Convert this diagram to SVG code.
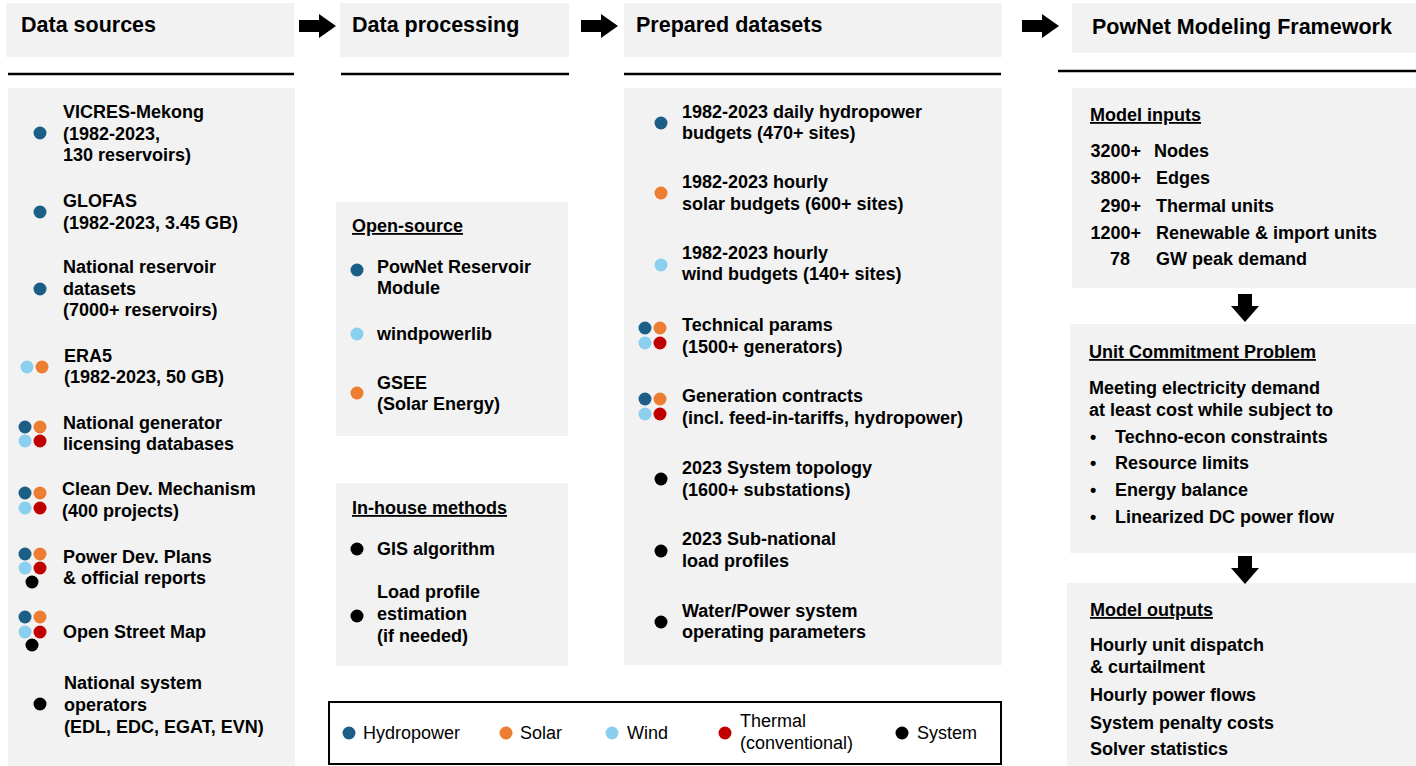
<svg xmlns="http://www.w3.org/2000/svg" width="1416" height="766" viewBox="0 0 1416 766">
<style>
.box{fill:#f2f2f2}
.rule{stroke:#000;stroke-width:2.5}
.h{font-family:"Liberation Sans",Arial,sans-serif;font-weight:bold;font-size:21.5px;fill:#000}
.t{font-family:"Liberation Sans",Arial,sans-serif;font-weight:bold;font-size:18px;fill:#000}
.u{text-decoration:underline}
.lg{font-family:"Liberation Sans",Arial,sans-serif;font-size:18px;fill:#000}
.hy{fill:#1b5f86}
.so{fill:#ed7d31}
.wi{fill:#8ad0ee}
.th{fill:#c00000}
.sy{fill:#000}
.arr{fill:#000}
</style>
<rect width="1416" height="766" fill="#fff"/>

<g id="header-sources">
<rect class="box" x="6" y="3" width="288" height="54"/>
<text class="h" x="21" y="32">Data sources</text>
<line class="rule" x1="8" y1="74" x2="294" y2="74"/>
</g>
<g id="header-processing">
<rect class="box" x="340" y="3" width="229" height="54"/>
<text class="h" x="352" y="32">Data processing</text>
<line class="rule" x1="341" y1="74" x2="569" y2="74"/>
</g>
<g id="header-prepared">
<rect class="box" x="624" y="3" width="378" height="54"/>
<text class="h" x="636" y="32">Prepared datasets</text>
<line class="rule" x1="624" y1="74" x2="1001" y2="74"/>
</g>
<g id="header-pownet">
<rect class="box" x="1072" y="3" width="344" height="50"/>
<text class="h" x="1092" y="34">PowNet Modeling Framework</text>
<line class="rule" x1="1058" y1="71" x2="1416" y2="71"/>
</g>

<g id="data-sources">
<rect class="box" x="8" y="88" width="287" height="678"/>
<circle class="hy" cx="40" cy="133" r="6.5"/>
<text class="t" x="63" y="118">VICRES-Mekong</text>
<text class="t" x="63" y="140">(1982-2023,</text>
<text class="t" x="63" y="161">130 reservoirs)</text>
<circle class="hy" cx="40" cy="212" r="6.5"/>
<text class="t" x="63" y="207">GLOFAS</text>
<text class="t" x="63" y="229">(1982-2023, 3.45 GB)</text>
<circle class="hy" cx="40" cy="289" r="6.5"/>
<text class="t" x="63" y="273">National reservoir</text>
<text class="t" x="63" y="295">datasets</text>
<text class="t" x="63" y="316">(7000+ reservoirs)</text>
<circle class="wi" cx="27" cy="367" r="6.5"/>
<circle class="so" cx="42" cy="367" r="6.5"/>
<text class="t" x="64" y="362">ERA5</text>
<text class="t" x="64" y="383">(1982-2023, 50 GB)</text>
<circle class="hy" cx="25" cy="427" r="6.5"/>
<circle class="so" cx="40" cy="427" r="6.5"/>
<circle class="wi" cx="25" cy="441" r="6.5"/>
<circle class="th" cx="40" cy="441" r="6.5"/>
<text class="t" x="63" y="429">National generator</text>
<text class="t" x="63" y="450">licensing databases</text>
<circle class="hy" cx="25" cy="493" r="6.5"/>
<circle class="so" cx="40" cy="493" r="6.5"/>
<circle class="wi" cx="25" cy="508" r="6.5"/>
<circle class="th" cx="40" cy="508" r="6.5"/>
<text class="t" x="62" y="495">Clean Dev. Mechanism</text>
<text class="t" x="62" y="517">(400 projects)</text>
<circle class="hy" cx="25" cy="554" r="6.5"/>
<circle class="so" cx="40" cy="554" r="6.5"/>
<circle class="wi" cx="25" cy="568" r="6.5"/>
<circle class="th" cx="40" cy="568" r="6.5"/>
<circle class="sy" cx="32" cy="582" r="6.5"/>
<text class="t" x="63" y="563">Power Dev. Plans</text>
<text class="t" x="63" y="584">&amp; official reports</text>
<circle class="hy" cx="25" cy="617" r="6.5"/>
<circle class="so" cx="40" cy="617" r="6.5"/>
<circle class="wi" cx="25" cy="632" r="6.5"/>
<circle class="th" cx="40" cy="632" r="6.5"/>
<circle class="sy" cx="32" cy="645" r="6.5"/>
<text class="t" x="63" y="638">Open Street Map</text>
<circle class="sy" cx="40" cy="704" r="6.5"/>
<text class="t" x="64" y="689">National system</text>
<text class="t" x="64" y="711">operators</text>
<text class="t" x="64" y="733">(EDL, EDC, EGAT, EVN)</text>
</g>

<g id="open-source">
<rect class="box" x="336" y="202" width="232" height="234"/>
<text class="t u" x="352" y="232">Open-source</text>
<circle class="hy" cx="357" cy="270" r="6.5"/>
<text class="t" x="377" y="273">PowNet Reservoir</text>
<text class="t" x="377" y="294">Module</text>
<circle class="wi" cx="357" cy="334" r="6.5"/>
<text class="t" x="377" y="340">windpowerlib</text>
<circle class="so" cx="357" cy="393" r="6.5"/>
<text class="t" x="377" y="389">GSEE</text>
<text class="t" x="377" y="410">(Solar Energy)</text>
</g>

<g id="in-house">
<rect class="box" x="336" y="483" width="232" height="183"/>
<text class="t u" x="352" y="514">In-house methods</text>
<circle class="sy" cx="357" cy="549" r="6.5"/>
<text class="t" x="377" y="555">GIS algorithm</text>
<circle class="sy" cx="357" cy="616" r="6.5"/>
<text class="t" x="377" y="598">Load profile</text>
<text class="t" x="377" y="620">estimation</text>
<text class="t" x="377" y="642">(if needed)</text>
</g>

<g id="prepared-datasets">
<rect class="box" x="624" y="88" width="378" height="577"/>
<circle class="hy" cx="661" cy="123" r="6.5"/>
<text class="t" x="682" y="118">1982-2023 daily hydropower</text>
<text class="t" x="682" y="139">budgets (470+ sites)</text>
<circle class="so" cx="661" cy="193" r="6.5"/>
<text class="t" x="682" y="188">1982-2023 hourly</text>
<text class="t" x="682" y="210">solar budgets (600+ sites)</text>
<circle class="wi" cx="661" cy="265" r="6.5"/>
<text class="t" x="682" y="259">1982-2023 hourly</text>
<text class="t" x="682" y="280">wind budgets (140+ sites)</text>
<circle class="hy" cx="645" cy="328" r="6.5"/>
<circle class="so" cx="660" cy="328" r="6.5"/>
<circle class="wi" cx="645" cy="343" r="6.5"/>
<circle class="th" cx="660" cy="343" r="6.5"/>
<text class="t" x="682" y="331">Technical params</text>
<text class="t" x="682" y="353">(1500+ generators)</text>
<circle class="hy" cx="645" cy="399" r="6.5"/>
<circle class="so" cx="660" cy="399" r="6.5"/>
<circle class="wi" cx="645" cy="414" r="6.5"/>
<circle class="th" cx="660" cy="414" r="6.5"/>
<text class="t" x="682" y="402">Generation contracts</text>
<text class="t" x="682" y="424">(incl. feed-in-tariffs, hydropower)</text>
<circle class="sy" cx="661" cy="479" r="6.5"/>
<text class="t" x="682" y="474">2023 System topology</text>
<text class="t" x="682" y="496">(1600+ substations)</text>
<circle class="sy" cx="661" cy="551" r="6.5"/>
<text class="t" x="682" y="545">2023 Sub-national</text>
<text class="t" x="682" y="567">load profiles</text>
<circle class="sy" cx="661" cy="622" r="6.5"/>
<text class="t" x="682" y="617">Water/Power system</text>
<text class="t" x="682" y="638">operating parameters</text>
</g>

<g id="model-inputs">
<rect class="box" x="1072" y="88" width="344" height="200"/>
<text class="t u" x="1090" y="121">Model inputs</text>
<text class="t" x="1141" y="157" text-anchor="end">3200+</text>
<text class="t" x="1154" y="157">Nodes</text>
<text class="t" x="1141" y="184" text-anchor="end">3800+</text>
<text class="t" x="1156" y="184">Edges</text>
<text class="t" x="1141" y="212" text-anchor="end">290+</text>
<text class="t" x="1156" y="212">Thermal units</text>
<text class="t" x="1141" y="239" text-anchor="end">1200+</text>
<text class="t" x="1156" y="239">Renewable &amp; import units</text>
<text class="t" x="1130" y="265" text-anchor="end">78</text>
<text class="t" x="1156" y="265">GW peak demand</text>
</g>

<g id="unit-commitment">
<rect class="box" x="1070" y="324" width="346" height="229"/>
<text class="t u" x="1089" y="358">Unit Commitment Problem</text>
<text class="t" x="1089" y="394">Meeting electricity demand</text>
<text class="t" x="1089" y="416">at least cost while subject to</text>
<text class="t" x="1090" y="443">•</text>
<text class="t" x="1115" y="443">Techno-econ constraints</text>
<text class="t" x="1090" y="469">•</text>
<text class="t" x="1115" y="469">Resource limits</text>
<text class="t" x="1090" y="496">•</text>
<text class="t" x="1115" y="496">Energy balance</text>
<text class="t" x="1090" y="523">•</text>
<text class="t" x="1115" y="523">Linearized DC power flow</text>
</g>

<g id="model-outputs">
<rect class="box" x="1067" y="583" width="349" height="183"/>
<text class="t u" x="1090" y="616">Model outputs</text>
<text class="t" x="1090" y="651">Hourly unit dispatch</text>
<text class="t" x="1090" y="673">&amp; curtailment</text>
<text class="t" x="1090" y="701">Hourly power flows</text>
<text class="t" x="1090" y="729">System penalty costs</text>
<text class="t" x="1090" y="755">Solver statistics</text>
</g>

<g id="legend">
<rect x="329" y="702" width="672" height="62" fill="#fff" stroke="#000" stroke-width="2"/>
<circle class="hy" cx="349" cy="733" r="6.5"/>
<text class="lg" x="363" y="739">Hydropower</text>
<circle class="so" cx="506" cy="733" r="6.5"/>
<text class="lg" x="520" y="739">Solar</text>
<circle class="wi" cx="612" cy="733" r="6.5"/>
<text class="lg" x="627" y="739">Wind</text>
<circle class="th" cx="725" cy="733" r="6.5"/>
<text class="lg" x="740" y="727">Thermal</text>
<text class="lg" x="740" y="749">(conventional)</text>
<circle class="sy" cx="902" cy="733" r="6.5"/>
<text class="lg" x="917" y="739">System</text>
</g>

<g id="connectors">
<polygon class="arr" points="299,20 319,20 319,14 336,26 319,38 319,32 299,32"/>
<polygon class="arr" points="581,20 601,20 601,14 618,26 601,38 601,32 581,32"/>
<polygon class="arr" points="1022,20 1042,20 1042,14 1059,26 1042,38 1042,32 1022,32"/>
<polygon class="arr" points="1238,294 1252,294 1252,306 1259,306 1245,322 1231,306 1238,306"/>
<polygon class="arr" points="1238,556 1252,556 1252,568 1259,568 1245,584 1231,568 1238,568"/>
</g>
</svg>
